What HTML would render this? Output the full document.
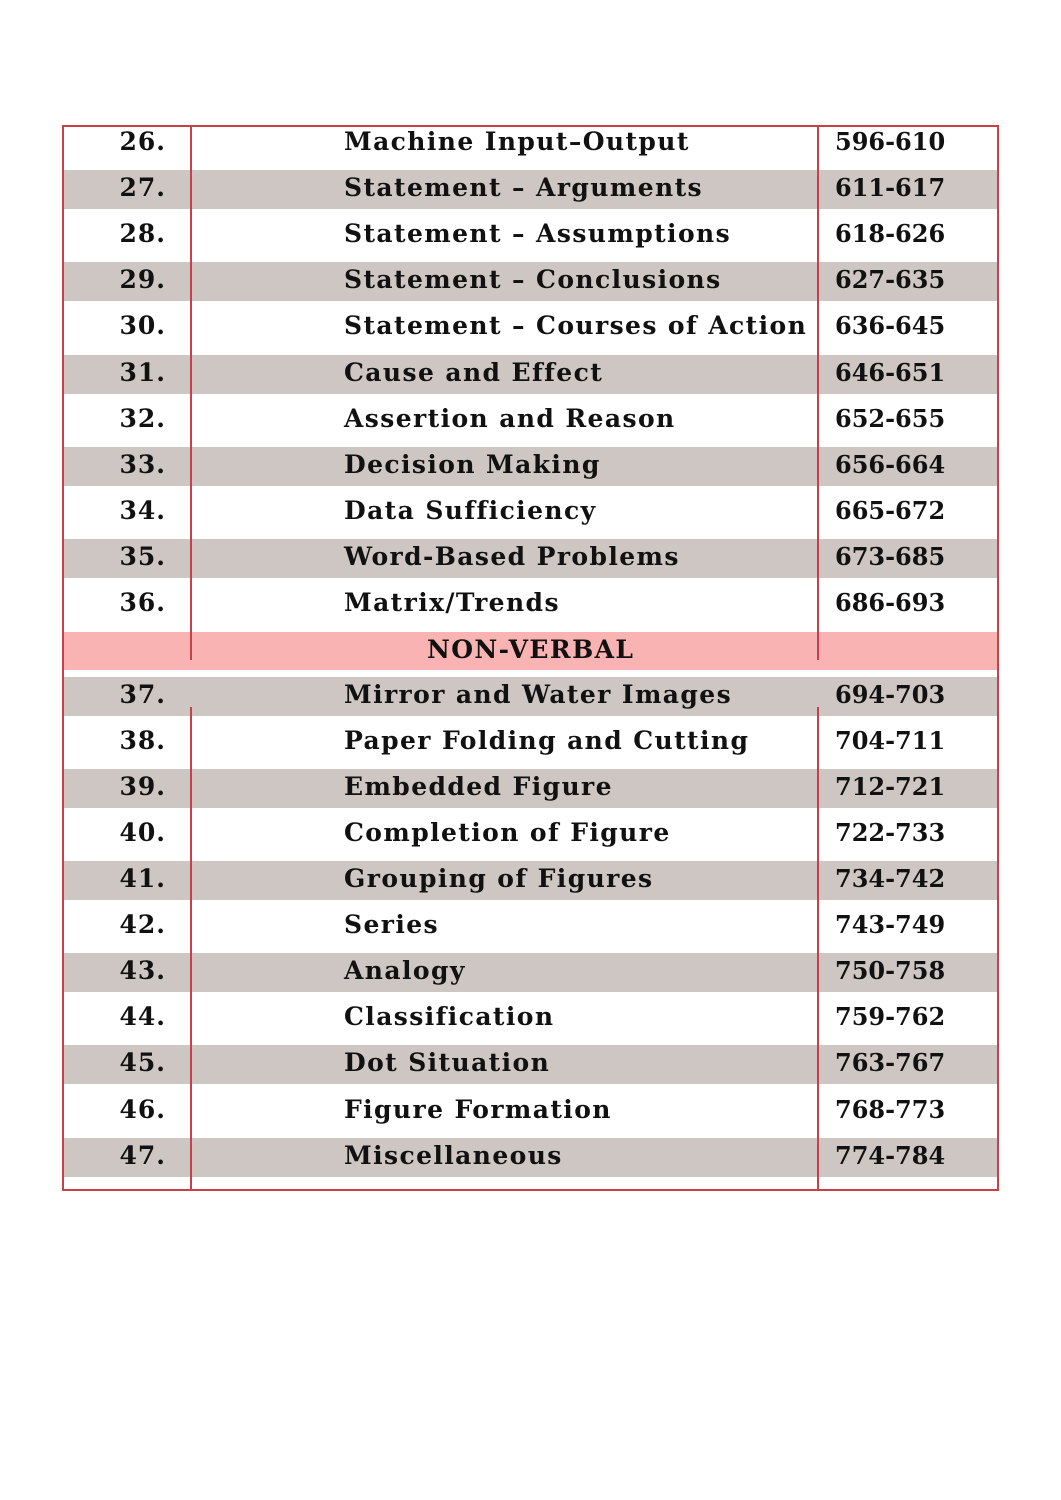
<!DOCTYPE html>
<html><head><meta charset="utf-8"><style>
body{margin:0;width:1061px;height:1500px;background:#fff;position:relative;overflow:hidden;font-family:"DejaVu Serif","Liberation Serif",serif;font-weight:bold;color:#111;}
.b{position:absolute;left:63px;width:934px;height:39px;background:#cdc6c2}
.t{position:absolute;height:30px;line-height:30px;font-size:25px;white-space:nowrap}
.n{left:60px;width:106px;text-align:right;letter-spacing:1px}
.x{left:344px;letter-spacing:1.4px}
.p{left:835px;font-size:24px}
.v{position:absolute;width:2px;background:#c8404a}
.h{position:absolute;height:2px;background:#c8404a;left:62px;width:937px}
</style></head><body>
<div class="b" style="top:170px"></div>
<div class="b" style="top:262px"></div>
<div class="b" style="top:355px"></div>
<div class="b" style="top:447px"></div>
<div class="b" style="top:539px"></div>
<div style="position:absolute;left:63px;width:934px;top:632px;height:38px;background:#f9b3b3"></div>
<div class="b" style="top:677px"></div>
<div class="b" style="top:769px"></div>
<div class="b" style="top:861px"></div>
<div class="b" style="top:953px"></div>
<div class="b" style="top:1045px"></div>
<div class="b" style="top:1138px"></div>

<div class="h" style="top:125px"></div>
<div class="h" style="top:1189px"></div>
<div class="v" style="left:62px;top:125px;height:1066px"></div>
<div class="v" style="left:997px;top:125px;height:1066px"></div>
<div class="v" style="left:190px;top:125px;height:535px"></div>
<div class="v" style="left:817px;top:125px;height:535px"></div>
<div class="v" style="left:190px;top:707px;height:484px"></div>
<div class="v" style="left:817px;top:707px;height:484px"></div>

<div class="t n" style="top:127px">26.</div><div class="t x" style="top:127px">Machine Input–Output</div><div class="t p" style="top:127px">596-610</div>
<div class="t n" style="top:173px">27.</div><div class="t x" style="top:173px">Statement – Arguments</div><div class="t p" style="top:173px">611-617</div>
<div class="t n" style="top:219px">28.</div><div class="t x" style="top:219px">Statement – Assumptions</div><div class="t p" style="top:219px">618-626</div>
<div class="t n" style="top:265px">29.</div><div class="t x" style="top:265px">Statement – Conclusions</div><div class="t p" style="top:265px">627-635</div>
<div class="t n" style="top:311px">30.</div><div class="t x" style="top:311px">Statement – Courses of Action</div><div class="t p" style="top:311px">636-645</div>
<div class="t n" style="top:358px">31.</div><div class="t x" style="top:358px">Cause and Effect</div><div class="t p" style="top:358px">646-651</div>
<div class="t n" style="top:404px">32.</div><div class="t x" style="top:404px">Assertion and Reason</div><div class="t p" style="top:404px">652-655</div>
<div class="t n" style="top:450px">33.</div><div class="t x" style="top:450px">Decision Making</div><div class="t p" style="top:450px">656-664</div>
<div class="t n" style="top:496px">34.</div><div class="t x" style="top:496px">Data Sufficiency</div><div class="t p" style="top:496px">665-672</div>
<div class="t n" style="top:542px">35.</div><div class="t x" style="top:542px">Word-Based Problems</div><div class="t p" style="top:542px">673-685</div>
<div class="t n" style="top:588px">36.</div><div class="t x" style="top:588px">Matrix/Trends</div><div class="t p" style="top:588px">686-693</div>
<div class="t" style="top:635px;left:427px;letter-spacing:1.4px">NON-VERBAL</div>
<div class="t n" style="top:680px">37.</div><div class="t x" style="top:680px">Mirror and Water Images</div><div class="t p" style="top:680px">694-703</div>
<div class="t n" style="top:726px">38.</div><div class="t x" style="top:726px">Paper Folding and Cutting</div><div class="t p" style="top:726px">704-711</div>
<div class="t n" style="top:772px">39.</div><div class="t x" style="top:772px">Embedded Figure</div><div class="t p" style="top:772px">712-721</div>
<div class="t n" style="top:818px">40.</div><div class="t x" style="top:818px">Completion of Figure</div><div class="t p" style="top:818px">722-733</div>
<div class="t n" style="top:864px">41.</div><div class="t x" style="top:864px">Grouping of Figures</div><div class="t p" style="top:864px">734-742</div>
<div class="t n" style="top:910px">42.</div><div class="t x" style="top:910px">Series</div><div class="t p" style="top:910px">743-749</div>
<div class="t n" style="top:956px">43.</div><div class="t x" style="top:956px">Analogy</div><div class="t p" style="top:956px">750-758</div>
<div class="t n" style="top:1002px">44.</div><div class="t x" style="top:1002px">Classification</div><div class="t p" style="top:1002px">759-762</div>
<div class="t n" style="top:1048px">45.</div><div class="t x" style="top:1048px">Dot Situation</div><div class="t p" style="top:1048px">763-767</div>
<div class="t n" style="top:1095px">46.</div><div class="t x" style="top:1095px">Figure Formation</div><div class="t p" style="top:1095px">768-773</div>
<div class="t n" style="top:1141px">47.</div><div class="t x" style="top:1141px">Miscellaneous</div><div class="t p" style="top:1141px">774-784</div>
</body></html>
